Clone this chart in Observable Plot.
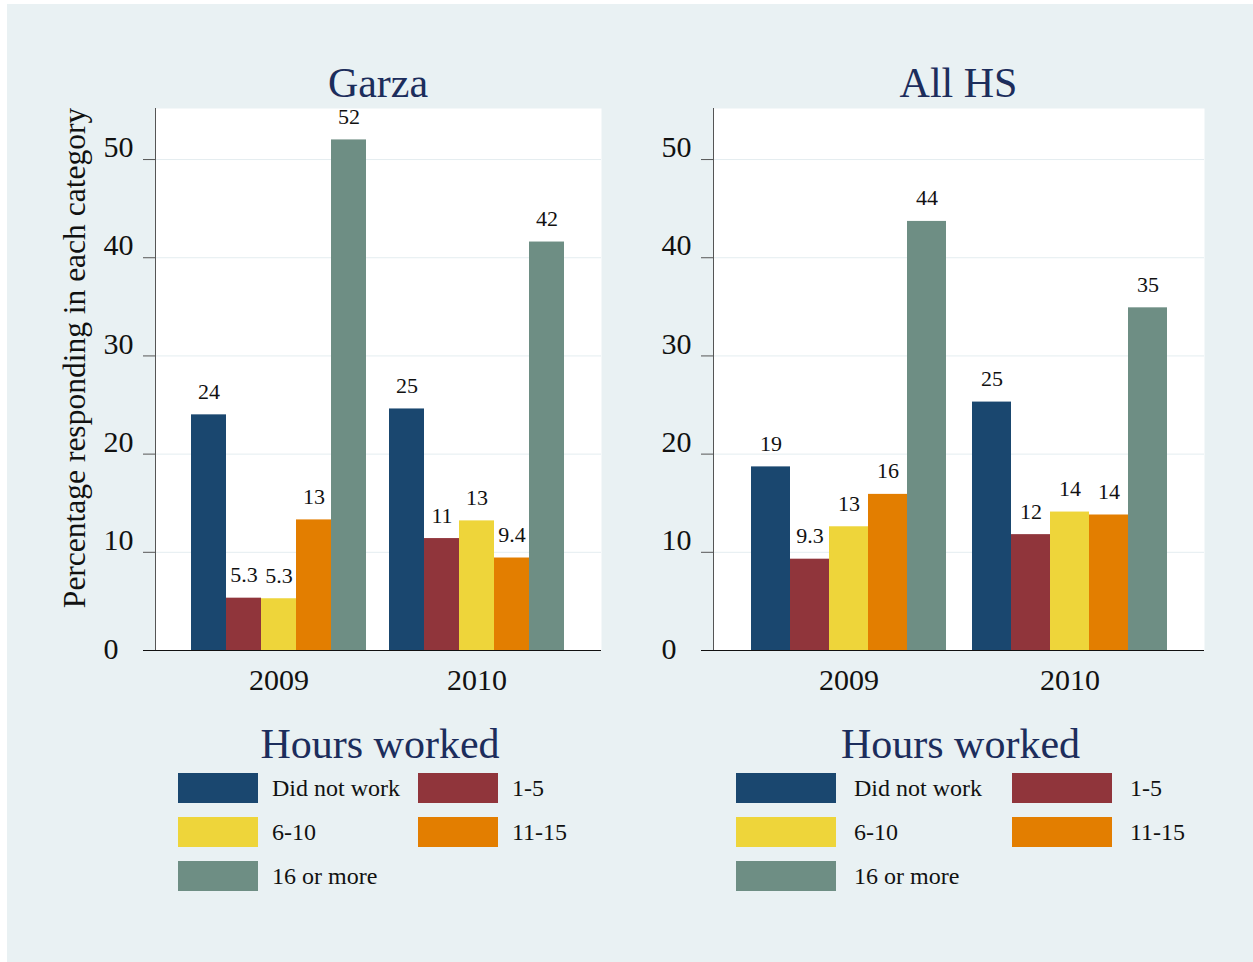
<!DOCTYPE html>
<html>
<head>
<meta charset="utf-8">
<script src="https://cdn.jsdelivr.net/npm/d3@7"></script>
<script src="https://cdn.jsdelivr.net/npm/@observablehq/plot@0.6"></script>
<style>
  html, body { margin: 0; padding: 0; background: #ffffff; }
  #page { position: relative; width: 1253px; height: 962px; overflow: hidden; font-family: "Liberation Serif", "DejaVu Serif", serif; }
  #bg { position: absolute; left: 7px; top: 4px; width: 1246px; height: 958px; background: #e9f1f3; }
  .abs { position: absolute; }
  .title { font-size: 42px; line-height: 42px; color: #1c2d5c; text-align: center; white-space: nowrap; }
  .ytitle { font-size: 31.5px; line-height: 34px; color: #111; white-space: nowrap; transform: translate(-50%, -50%) rotate(-90deg); }
  .legend { display: grid; row-gap: 14px; align-items: center; }
  .key { height: 30px; }
  .ltext { font-size: 24px; line-height: 30px; color: #111; white-space: nowrap; }
  svg { overflow: visible; }
</style>
</head>
<body>
<div id="page"><div id="bg"></div></div>
<script>
// ---------------- data ----------------
const categories = ["Did not work", "1-5", "6-10", "11-15", "16 or more"];
const years = ["2009", "2010"];
const panelTitles = ["Garza", "All HS"];
const garza2009 = [24.0, 5.33, 5.27, 13.3, 52.0];
const garza2010 = [24.6, 11.4, 13.2, 9.42, 41.6];
const allHS2009 = [18.7, 9.3, 12.6, 15.9, 43.7];
const allHS2010 = [25.3, 11.8, 14.1, 13.8, 34.9];
const yTicks = [0, 10, 20, 30, 40, 50];
const yMax = 55.2;
const colors = ["#1a476f", "#90353b", "#eed53a", "#e37e00", "#6e8e84"];
const legendTitle = "Hours worked";
const yLabel = "Percentage responding in each category";

// ---------------- build ----------------
const page = document.getElementById("page");
const fmt = d3.format(".2r");
const font = "'Liberation Serif', 'DejaVu Serif', serif";

function rows(v2009, v2010) {
  const out = [];
  categories.forEach((c, i) => out.push({year: years[0], cat: c, value: v2009[i]}));
  categories.forEach((c, i) => out.push({year: years[1], cat: c, value: v2010[i]}));
  return out;
}

const panels = [
  {title: panelTitles[0], data: rows(garza2009, garza2010), left: 50, width: 562, mL: 105, mR: 11, pi: 0.116, po: 0.184,
   legend: {left: 178, keyW: 80, gap: 14, textW: 146}},
  {title: panelTitles[1], data: rows(allHS2009, allHS2010), left: 612, width: 613, mL: 101, mR: 21, pi: 0.118, po: 0.165,
   legend: {left: 736, keyW: 100, gap: 18, textW: 158}}
];
const top0 = 90, H = 620, mT = 18, mB = 60;

function place(el, left, top) {
  el.classList.add("abs");
  el.style.left = left + "px";
  el.style.top = top + "px";
  page.appendChild(el);
  return el;
}

panels.forEach(p => {
  const common = {
    width: p.width, height: H,
    marginLeft: p.mL, marginRight: p.mR, marginTop: mT, marginBottom: mB,
    style: {background: "transparent", fontFamily: font, overflow: "visible"}
  };
  // background layer: plot region, grid, y axis
  const back = Plot.plot({
    ...common,
    y: {domain: [0, yMax], axis: null},
    marks: [
      Plot.frame({fill: "white", stroke: "none"}),
      Plot.ruleY(yTicks.filter(v => v > 0), {stroke: "#e4edf0", strokeWidth: 1}),
      Plot.axisY({ticks: yTicks, tickSize: 12, tickFormat: () => "", stroke: "#555"}),
      Plot.frame({anchor: "left", stroke: "#555"}),
      Plot.ruleY([0], {stroke: "#111", insetLeft: -12}),
      Plot.text(yTicks.filter(v => v > 0), {y: d => d, text: d => String(d), frameAnchor: "left", textAnchor: "start", dx: -52, dy: -12, fontSize: 30, fill: "#111"}),
      Plot.text(yTicks.filter(v => v === 0), {y: d => d, text: d => String(d), frameAnchor: "left", textAnchor: "start", dx: -52, dy: -1, fontSize: 30, fill: "#111"})
    ]
  });
  place(back, p.left, top0);

  // foreground layer: bars, labels, year axis
  const front = Plot.plot({
    ...common,
    fx: {domain: years, paddingInner: p.pi, paddingOuter: p.po, axis: null, label: null},
    x: {domain: categories, padding: 0, axis: null},
    y: {domain: [0, yMax], axis: null},
    color: {domain: categories, range: colors},
    marks: [
      Plot.barY(p.data, {fx: "year", x: "cat", y: "value", fill: "cat"}),
      Plot.text(p.data, {fx: "year", x: "cat", y: "value", text: d => fmt(d.value), lineAnchor: "bottom", dy: -16, fontSize: 22, fill: "#111"}),
      Plot.axisFx({anchor: "bottom", tickSize: 0, tickPadding: 18, fontSize: 30, label: null, fill: "#111"})
    ]
  });
  place(front, p.left, top0);

  // panel title
  const frameL = p.left + p.mL, frameR = p.left + p.width - p.mR;
  const t = document.createElement("div");
  t.className = "title";
  t.textContent = p.title;
  t.style.width = (frameR - frameL) + "px";
  place(t, frameL, 62);

  // legend title
  const lt = document.createElement("div");
  lt.className = "title";
  lt.textContent = legendTitle;
  lt.style.width = (frameR - frameL) + "px";
  place(lt, frameL + 2, 723);

  // legend grid
  const lg = document.createElement("div");
  lg.className = "legend";
  const L = p.legend;
  lg.style.columnGap = L.gap + "px";
  lg.style.gridTemplateColumns = `${L.keyW}px ${L.textW - L.gap}px ${L.keyW}px auto`;
  categories.forEach((c, i) => {
    const k = document.createElement("div");
    k.className = "key";
    k.style.background = colors[i];
    const tx = document.createElement("div");
    tx.className = "ltext";
    tx.textContent = c;
    lg.appendChild(k);
    lg.appendChild(tx);
  });
  place(lg, L.left, 773);
});

// y-axis title (left panel)
const yt = document.createElement("div");
yt.className = "ytitle";
yt.textContent = yLabel;
place(yt, 75, 358);
</script>
</body>
</html>
